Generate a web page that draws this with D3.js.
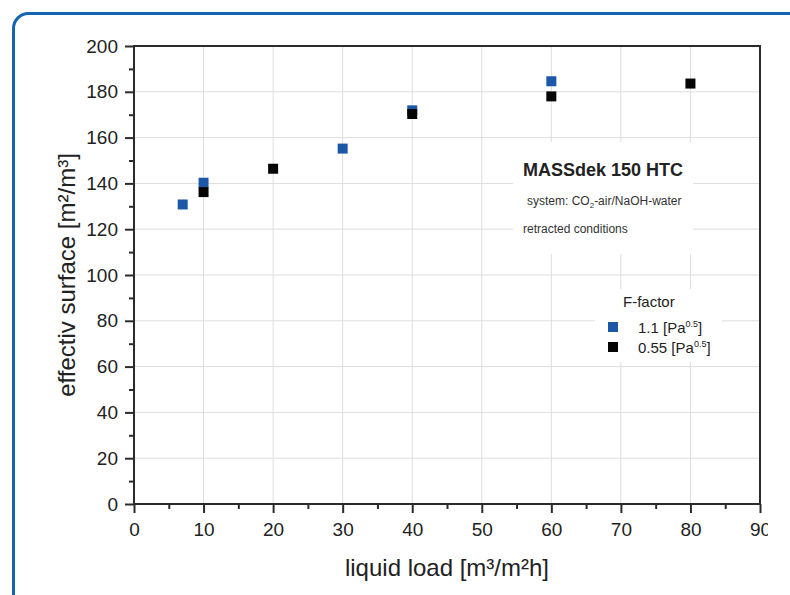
<!DOCTYPE html>
<html>
<head>
<meta charset="utf-8">
<script src="https://cdn.jsdelivr.net/npm/d3@7"></script>
<style>
  body { margin: 0; background: #fff; }
  svg text { font-family: "Liberation Sans", Arial, sans-serif; }
</style>
</head>
<body>
<div class="chart"></div>
<script>
// values
var blueX = [7, 10, 30, 40, 60];
var blueY = [130.8, 140.3, 155.2, 171.9, 184.6];
var blackX = [10, 20, 40, 60, 80];
var blackY = [136.2, 146.4, 170.3, 178.0, 183.6];
var seriesNames = ["1.1", "0.55"];
var xTicks = [0, 10, 20, 30, 40, 50, 60, 70, 80, 90];
var yTicks = [0, 20, 40, 60, 80, 100, 120, 140, 160, 180, 200];

var svgWidth = 790;
var svgHeight = 595;
var margin = { top: 46, right: 30, bottom: 91, left: 134 };
var width = 760 - margin.left;
var height = 504 - margin.top;

var svg = d3.select(".chart")
  .append("svg")
  .attr("width", svgWidth)
  .attr("height", svgHeight);

// blue rounded frame, runs off the right and bottom edges
svg.append("path")
  .attr("d", "M13.5,600 V28.5 A15,15 0 0 1 28.5,13.5 H800")
  .attr("fill", "none")
  .attr("stroke", "#1464b4")
  .attr("stroke-width", 3);

var defs = svg.append("defs");
defs.append("clipPath").attr("id", "cut")
  .append("rect").attr("x", -200).attr("y", -10).attr("width", 768 - margin.left + 200).attr("height", 120);

var chart = svg.append("g")
  .attr("transform", "translate(" + margin.left + "," + margin.top + ")");

var xScale = d3.scaleLinear().domain([0, 90]).range([0, width]);
var yScale = d3.scaleLinear().domain([0, 200]).range([height, 0]);

// grid
chart.append("g").selectAll("line")
  .data(xTicks.slice(1, -1))
  .enter().append("line")
  .attr("x1", function(d) { return xScale(d); })
  .attr("x2", function(d) { return xScale(d); })
  .attr("y1", 0).attr("y2", height)
  .attr("stroke", "#dedede").attr("stroke-width", 1);

chart.append("g").selectAll("line")
  .data(yTicks.slice(1, -1))
  .enter().append("line")
  .attr("y1", function(d) { return yScale(d); })
  .attr("y2", function(d) { return yScale(d); })
  .attr("x1", 0).attr("x2", width)
  .attr("stroke", "#dedede").attr("stroke-width", 1);

// white boxes behind annotation and legend
svg.append("rect").attr("x", 513).attr("y", 142).attr("width", 180).attr("height", 112).attr("fill", "#fff");
svg.append("rect").attr("x", 595).attr("y", 289).attr("width", 127).attr("height", 73).attr("fill", "#fff");

// axes
var minorX = d3.range(5, 90, 10);
var minorY = d3.range(10, 200, 20);

var xAxisG = chart.append("g")
  .attr("transform", "translate(0," + height + ")")
  .attr("clip-path", "url(#cut)")
  .call(d3.axisBottom(xScale).tickValues(xTicks).tickSize(9).tickPadding(10).tickFormat(d3.format("d")));
chart.append("g")
  .attr("transform", "translate(0," + height + ")")
  .call(d3.axisBottom(xScale).tickValues(minorX).tickSize(5).tickFormat(""));

var yAxisG = chart.append("g")
  .call(d3.axisLeft(yScale).tickValues(yTicks).tickSize(9).tickPadding(7).tickFormat(d3.format("d")));
chart.append("g")
  .call(d3.axisLeft(yScale).tickValues(minorY).tickSize(5).tickFormat(""));

chart.selectAll(".domain").remove();
chart.selectAll(".tick line").attr("stroke", "#2b2b2b").attr("stroke-width", 2);
chart.selectAll(".tick text").attr("font-size", 19).attr("fill", "#222");

chart.append("rect")
  .attr("width", width).attr("height", height)
  .attr("fill", "none")
  .attr("stroke", "#2b2b2b")
  .attr("stroke-width", 2);

// points
var sq = 10;
var blueData = blueX.map(function(d, i) { return { x: d, y: blueY[i] }; });
var blackData = blackX.map(function(d, i) { return { x: d, y: blackY[i] }; });

chart.append("g").selectAll("rect")
  .data(blueData)
  .enter().append("rect")
  .attr("x", function(d) { return xScale(d.x) - sq / 2; })
  .attr("y", function(d) { return yScale(d.y) - sq / 2; })
  .attr("width", sq).attr("height", sq)
  .attr("fill", "#1d58a8");

chart.append("g").selectAll("rect")
  .data(blackData)
  .enter().append("rect")
  .attr("x", function(d) { return xScale(d.x) - sq / 2; })
  .attr("y", function(d) { return yScale(d.y) - sq / 2; })
  .attr("width", sq).attr("height", sq)
  .attr("fill", "#050505");

// axis titles
svg.append("text")
  .attr("x", margin.left + width / 2)
  .attr("y", 576)
  .attr("text-anchor", "middle")
  .attr("font-size", 24)
  .attr("fill", "#222")
  .text("liquid load [m³/m²h]");

svg.append("text")
  .attr("transform", "translate(75," + (margin.top + height / 2) + ") rotate(-90)")
  .attr("text-anchor", "middle")
  .attr("font-size", 24)
  .attr("fill", "#222")
  .text("effectiv surface [m²/m³]");

// annotation
svg.append("text")
  .attr("x", 523).attr("y", 176)
  .attr("font-size", 18).attr("font-weight", "bold").attr("fill", "#222")
  .text("MASSdek 150 HTC");

var sys = svg.append("text")
  .attr("x", 527).attr("y", 205)
  .attr("font-size", 12).attr("fill", "#333");
sys.append("tspan").text("system: CO");
sys.append("tspan").attr("dy", 3).attr("font-size", 8).text("2");
sys.append("tspan").attr("dy", -3).text("-air/NaOH-water");

svg.append("text")
  .attr("x", 523).attr("y", 233)
  .attr("font-size", 12).attr("fill", "#333")
  .text("retracted conditions");

// legend
svg.append("text")
  .attr("x", 623).attr("y", 307)
  .attr("font-size", 15).attr("fill", "#222")
  .text("F-factor");

var legendColors = ["#1d58a8", "#050505"];
var legend = svg.append("g").selectAll("g")
  .data(seriesNames)
  .enter().append("g")
  .attr("transform", function(d, i) { return "translate(608," + (322 + i * 20) + ")"; });

legend.append("rect")
  .attr("width", 10).attr("height", 10)
  .attr("fill", function(d, i) { return legendColors[i]; });

var lt = legend.append("text")
  .attr("x", 30).attr("y", 10.5)
  .attr("font-size", 15).attr("fill", "#222");
lt.append("tspan").text(function(d) { return d + " [Pa"; });
lt.append("tspan").attr("dy", -6).attr("font-size", 9).text("0.5");
lt.append("tspan").attr("dy", 6).text("]");
</script>
</body>
</html>
